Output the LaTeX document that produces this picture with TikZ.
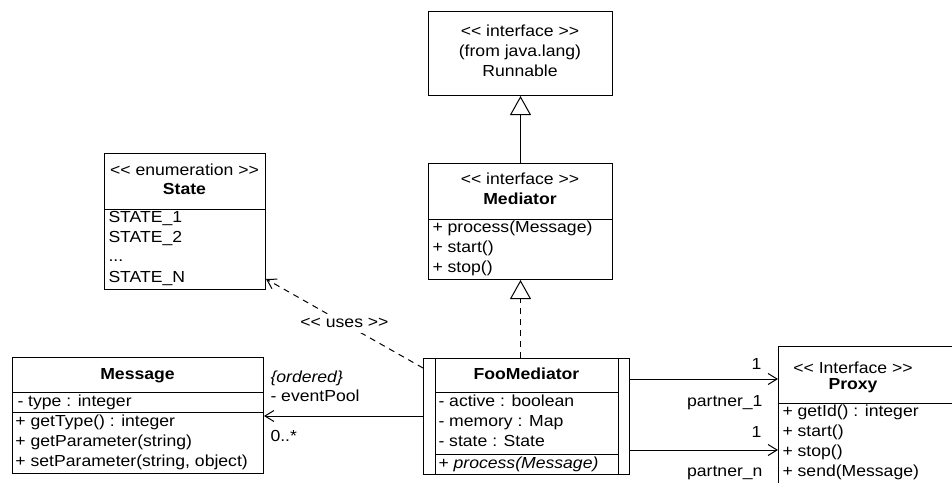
\documentclass[tikz,border=0pt]{standalone}
\usepackage{fontspec}
\setmainfont{Liberation Sans}[FakeStretch=1.1]
\usetikzlibrary{arrows.meta}
\newcommand\stOpen{<\kern0pt<}
\newcommand\stClose{>\kern0pt>}
\begin{document}
\begin{tikzpicture}[x=1pt,y=-1pt, line width=1pt,
  box/.style={draw, rectangle, inner sep=0pt, anchor=north west},
  txt/.style={inner sep=0pt, text height=11.5pt, text depth=3.5pt, font=\fontsize{16}{19}\selectfont},
  lt/.style={txt, anchor=west},
  rt/.style={txt, anchor=east},
  ct/.style={txt, anchor=center},
  gen/.style={-{Triangle[open,width=21pt,length=19pt,line width=1pt]}},
  dsh/.style={dash pattern=on 6pt off 5pt},
  nav/.style={-{Straight Barb[length=9pt,width=11pt,line width=1pt]}}]
\useasboundingbox (0,0) rectangle (952,482);
\clip (0,0) rectangle (952,482);

% Runnable
\node[box, minimum width=184pt, minimum height=84pt] (run) at (428,11) {};
\node[ct] (runS) at (520,32) {\stOpen{} interface \stClose};
\node[ct] (runF) at (520,52) {(from java.lang)};
\node[ct] (runN) at (520,72) {Runnable};

% Mediator
\node[box, minimum width=184pt, minimum height=116pt] (med) at (428,163) {};
\draw (428,219) -- (612,219);
\node[ct] (medS) at (520,180) {\stOpen{} interface \stClose};
\node[ct] (medN) at (520,200) {\textbf{Mediator}};
\node[lt] (medO1) at (432,228) {+ process(Message)};
\node[lt] (medO2) at (432,248) {+ start()};
\node[lt] (medO3) at (432,268) {+ stop()};

% State
\node[box, minimum width=161pt, minimum height=136pt] (st) at (104,153) {};
\draw (104,209) -- (265,209);
\node[ct] (stS) at (184.5,171) {\stOpen{} enumeration \stClose};
\node[ct] (stN) at (184.5,190) {\textbf{State}};
\node[lt] (st1) at (108,218) {STATE\_1};
\node[lt] (st2) at (108,238) {STATE\_2};
\node[lt] (st3) at (108,257) {...};
\node[lt] (st4) at (108,278) {STATE\_N};

% Message
\node[box, minimum width=251pt, minimum height=116pt] (msg) at (12,357) {};
\draw (12,392) -- (263,392);
\draw (12,412) -- (263,412);
\node[ct] (msgN) at (137.5,375) {\textbf{Message}};
\node[lt] (msgA) at (17,402) {- type : integer};
\node[lt] (msgO1) at (15,422) {+ getType() : integer};
\node[lt] (msgO2) at (15,442) {+ getParameter(string)};
\node[lt] (msgO3) at (15,462) {+ setParameter(string, object)};

% FooMediator
\node[box, minimum width=206pt, minimum height=116pt] (foo) at (423,358) {};
\draw (435,358) -- (435,474);
\draw (618,358) -- (618,474);
\draw (435,392) -- (618,392);
\draw (435,454) -- (618,454);
\node[ct] (fooN) at (526.5,375) {\textbf{FooMediator}};
\node[lt] (fooA1) at (438,402) {- active : boolean};
\node[lt] (fooA2) at (438,422) {- memory : Map};
\node[lt] (fooA3) at (438,442) {- state : State};
\node[lt] (fooO1) at (438,464) {+ \textit{process(Message)}};

% Proxy
\node[box, minimum width=190pt, minimum height=150pt] (px) at (778,346) {};
\draw (778,403) -- (968,403);
\node[ct] (pxS) at (853,369) {\stOpen{} Interface \stClose};
\node[ct] (pxN) at (853,385) {\textbf{Proxy}};
\node[lt] (pxO1) at (782,412) {+ getId() : integer};
\node[lt] (pxO2) at (782,432) {+ start()};
\node[lt] (pxO3) at (782,452) {+ stop()};
\node[lt] (pxO4) at (782,472) {+ send(Message)};

% connectors
\draw[gen] (med.north) -- (run.south);
\draw[gen, dsh] (foo.north -| med.south) -- (med.south);
\draw[nav, dsh] (foo.west |- 0,368) -- node[ct, fill=white, inner sep=2pt] (uses) {\stOpen{} uses \stClose} (st.east |- 0,279);
\draw[nav] (foo.west |- 0,416) -- (msg.east |- 0,416);
\draw[nav] (foo.east |- 0,379) -- (px.west |- 0,379);
\draw[nav] (foo.east |- 0,450) -- (px.west |- 0,450);

% association labels
\node[lt] (ord) at (270,378) {\textit{\{ordered\}}};
\node[lt] (evp) at (270,397) {- eventPool};
\node[lt] (mul) at (270,437) {0..*};
\node[rt] (m1) at (762,365) {1};
\node[rt] (p1) at (763,402) {partner\_1};
\node[rt] (m2) at (762,433) {1};
\node[rt] (p2) at (763,472) {partner\_n};
\end{tikzpicture}
\end{document}
